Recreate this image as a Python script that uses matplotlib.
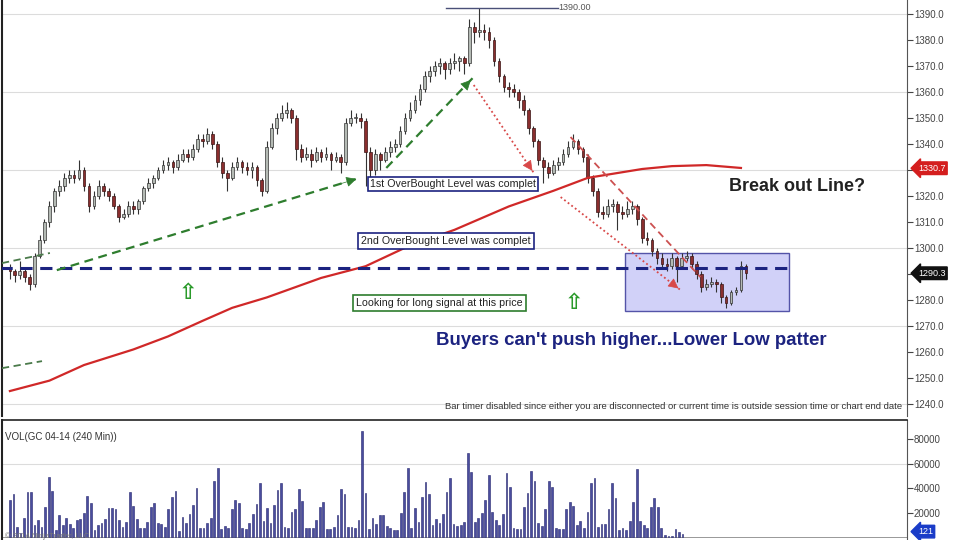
import numpy as np
import matplotlib
matplotlib.use("Agg")
import matplotlib.pyplot as plt
from matplotlib.patches import Rectangle
from matplotlib.transforms import blended_transform_factory

# ─────────────────────────────────────────────
# DATA  (GC 04-14, 240 min bars)
# ─────────────────────────────────────────────
first_open = 1292.0
closes = [
    1291, 1289.5, 1291, 1289, 1286, 1297, 1303, 1310, 1316, 1322,
    1324, 1327, 1328, 1327, 1330, 1324, 1316, 1320, 1324, 1322,
    1320, 1316, 1312, 1313, 1316, 1315, 1318, 1323, 1325, 1327,
    1330, 1332, 1333, 1331, 1334, 1336, 1335, 1338, 1342, 1341,
    1344, 1340, 1333, 1329, 1327, 1331, 1333, 1331, 1330, 1331,
    1326, 1322, 1339, 1346, 1350, 1352, 1353, 1350, 1338, 1335,
    1336, 1334, 1337, 1335, 1336, 1334, 1335, 1333, 1348, 1350,
    1350, 1349, 1337, 1330, 1336, 1334, 1337, 1339, 1340, 1345,
    1350, 1353, 1357, 1361, 1366, 1368, 1370, 1371, 1369, 1371,
    1372, 1373, 1371, 1385, 1383, 1384, 1383, 1380, 1372, 1366,
    1362, 1361, 1360, 1357, 1353, 1346, 1341, 1334, 1331, 1329,
    1332, 1333, 1336, 1339, 1341, 1338, 1335, 1327, 1322, 1314,
    1313, 1316, 1317, 1314, 1313, 1315, 1316, 1311, 1304, 1303,
    1299, 1296, 1294, 1293, 1296, 1293, 1296, 1297, 1294, 1290,
    1285, 1286, 1287, 1286, 1281, 1279, 1283, 1284, 1293, 1290.3,
]
highs = [
    1294, 1292, 1295, 1292, 1290, 1298, 1305, 1311, 1318, 1323,
    1326, 1329, 1330, 1330, 1334, 1331, 1325, 1322, 1326, 1325,
    1323, 1321, 1317, 1315, 1318, 1318, 1319, 1324, 1327, 1328,
    1331, 1334, 1335, 1334, 1336, 1338, 1338, 1340, 1344, 1344,
    1346, 1345, 1341, 1335, 1330, 1333, 1335, 1334, 1333, 1333,
    1332, 1327, 1341, 1348, 1352, 1355, 1356, 1354, 1351, 1340,
    1339, 1338, 1339, 1338, 1339, 1337, 1337, 1336, 1350, 1353,
    1352, 1352, 1350, 1339, 1338, 1337, 1339, 1341, 1342, 1347,
    1352, 1356, 1359, 1363, 1368, 1370, 1372, 1373, 1372, 1373,
    1375, 1374, 1374, 1388, 1387, 1392.5, 1386, 1385, 1381, 1373,
    1367, 1364, 1363, 1361, 1359, 1354, 1347, 1342, 1335, 1333,
    1334, 1335, 1338, 1341, 1344, 1342, 1339, 1336, 1328, 1323,
    1316, 1319, 1319, 1318, 1316, 1318, 1318, 1317, 1312, 1306,
    1304, 1300, 1298, 1296, 1298, 1297, 1298, 1299, 1298, 1295,
    1291, 1288, 1289, 1288, 1287, 1282, 1284, 1285, 1295, 1294,
]
lows = [
    1288, 1287, 1288, 1287, 1284, 1285, 1296, 1302, 1308, 1314,
    1320, 1322, 1325, 1325, 1326, 1322, 1314, 1315, 1319, 1320,
    1318, 1315, 1310, 1311, 1312, 1313, 1313, 1317, 1322, 1323,
    1326, 1329, 1330, 1329, 1330, 1333, 1333, 1334, 1337, 1339,
    1340, 1338, 1331, 1327, 1322, 1326, 1330, 1329, 1328, 1327,
    1324, 1320, 1321, 1338, 1344, 1349, 1350, 1348, 1334, 1333,
    1334, 1331, 1333, 1333, 1334, 1330, 1333, 1329, 1332, 1347,
    1348, 1346, 1324, 1326, 1328, 1330, 1333, 1335, 1337, 1339,
    1344, 1349, 1352, 1355, 1360, 1364, 1366, 1367, 1365, 1367,
    1369, 1368, 1367, 1370, 1379, 1381, 1380, 1377, 1370, 1364,
    1360, 1358, 1358, 1354, 1351, 1344, 1339, 1332, 1325, 1327,
    1328, 1330, 1332, 1335, 1338, 1336, 1333, 1325, 1320, 1312,
    1311, 1312, 1314, 1307, 1311, 1312, 1313, 1309, 1302, 1301,
    1297, 1294, 1292, 1291, 1292, 1287, 1292, 1295, 1292, 1288,
    1283, 1284, 1285, 1283, 1279, 1277, 1278, 1282, 1283, 1288,
]

# moving average (red curve) at a few bar indices
ma_idx = [0, 8, 15, 25, 32, 39, 45, 52, 63, 72, 81, 90, 101, 110, 117, 128, 134, 141, 148]
ma_val = [1245, 1249, 1255, 1261, 1266, 1272, 1277, 1281, 1288.5, 1293, 1301, 1307,
          1316, 1322, 1327, 1330.4, 1331.5, 1331.9, 1330.8]

# volume panel, thousands of contracts
vol_k = [
    30.6, 35.5, 8.8, 3.4, 15.6, 36.8, 36.8, 10.2, 14.3, 8.3, 25.2, 49.7, 37.9, 6.1,
    18.4, 10.2, 15.6, 11, 7.5, 14.3, 14.9, 20.3, 33.9, 27.9, 6.1, 10.2, 11.5, 14.9,
    24.3, 23.8, 23.2, 14.3, 8.8, 12.9, 37.4, 25.9, 14.9, 7.5, 7.5, 12.9, 25.2, 28.4,
    11.5, 11, 8.8, 23.2, 32.8, 37.9, 5.6, 16.5, 11.5, 18.9, 26.5, 40.1, 7.5, 7.5,
    11.5, 16.2, 46.1, 56.5, 6.7, 9.4, 7.5, 23.2, 30.6, 27.9, 7.5, 6.7, 11.5, 18.9,
    27, 44.2, 13.7, 23.8, 11.5, 26.5, 38.8, 44.8, 8.8, 8, 20.5, 23, 39.6, 29.8,
    7.5, 7.5, 7.5, 14.3, 25.2, 29.2, 6.7, 7.2, 8.8, 18.4, 39.6, 35.2, 8.3, 8.3,
    8, 14.3, 87.2, 36, 6.9, 16.2, 10.7, 18.4, 18.4, 9.6, 7.5, 6.1, 6.1, 19.7,
    37.4, 56.5, 7.5, 23.8, 12.9, 32.8, 45, 35.2, 10.2, 14.9, 12.1, 18.9, 37.4, 48.3,
    11, 9.4, 10.2, 12.9, 68.7, 53.8, 12.9, 15.6,
    19.7, 30.6, 51, 21.1, 14.3, 10.2, 19.2, 53, 41.5, 7.5, 6.7, 6.7, 25.2, 36.6,
    54.6, 46.4, 12.1, 9.6, 23.2, 46.1, 41.5, 7.5, 6.7, 6.9, 23.2, 28.7, 25.7, 10.2,
    13.4, 7.5, 21.1, 44.2, 48.8, 8.3, 11, 10.7, 23.2, 44.8, 32, 6.1, 7.5, 6.1,
    13.7, 28.7, 55.7, 13.7, 10.2, 7.5, 25.2, 32.5, 24.6, 7.5, 2, 1.2, 1.5, 6.7,
    4.8, 2.9,
]

price_ticks = list(range(1240, 1400, 10))
vol_ticks = [20000, 40000, 60000, 80000]
last_price = 1290.3
ma_last = 1330.7
support_level = 1292.3

NAVY = "#1c2380"
GRID = "#dcdcdc"

# ─────────────────────────────────────────────
# FIGURE
# ─────────────────────────────────────────────
plt.rcParams["font.family"] = ["Liberation Sans", "DejaVu Sans"]
fig = plt.figure(figsize=(9.6, 5.4), dpi=100)
fig.patch.set_facecolor("white")

ax = fig.add_axes([0.002, 124 / 540, 0.9448 - 0.002, 416 / 540])
axv = fig.add_axes([0.002, 0.0, 0.9448 - 0.002, 120 / 540])

n = len(closes)
x = np.arange(n)
opens = np.array([first_open] + closes[:-1])
closes_a = np.array(closes)
up = closes_a >= opens

# ── candles ──
ax.vlines(x, lows, highs, color="#333333", lw=0.8, zorder=3)
body_lo = np.minimum(opens, closes_a)
body_h = np.maximum(np.abs(closes_a - opens), 0.5)
ax.bar(x[up], body_h[up], bottom=body_lo[up], width=0.55,
       color="#b4bab4", edgecolor="#333333", lw=0.5, zorder=4)
ax.bar(x[~up], body_h[~up], bottom=body_lo[~up], width=0.55,
       color="#8a2e2e", edgecolor="#3a1414", lw=0.5, zorder=4)

# ── limits / axes ──
px = 4.95  # pixels per bar
ax.set_xlim(-8 / px, (907 - 8) / px)
ax.set_ylim(1235.4, 1395.4)
for y in [1240, 1270, 1300, 1330, 1360, 1390]:
    ax.axhline(y, color=GRID, lw=0.8, zorder=0)

ax.yaxis.tick_right()
ax.set_yticks(price_ticks)
# labels under the two price tags are hidden, as on the platform
ax.set_yticklabels(["" if t in (1290, 1330) else f"{t:.1f}" for t in price_ticks])
ax.tick_params(axis="y", labelsize=7, colors="#444444", length=4, width=0.8, pad=1)
ax.set_xticks([])
for s in ["top", "bottom"]:
    ax.spines[s].set_visible(False)
ax.spines["right"].set_color("#555555")
ax.spines["left"].set_color("#222222")
ax.spines["left"].set_linewidth(1.5)

# ── moving average ──
ax.plot(ma_idx, ma_val, color="#d02828", lw=1.6, zorder=5)

# ── support line + box ──
ax.plot([-2, (790 - 8) / px], [support_level, support_level], color=NAVY,
        lw=2.2, ls=(0, (4, 2.5)), zorder=6)
ax.add_patch(Rectangle(((624 - 8) / px, 1275.8), (789 - 624) / px, 22.3,
                       facecolor="#c9c9f7", edgecolor="#3a3a9a", lw=1.0,
                       alpha=0.85, zorder=2))

# ── peak marker ──
peak = max(highs)
ax.plot([88.3, 110.9], [peak, peak], color="#4a5078", lw=1.0, zorder=5)
ax.text(111.0, peak, "1390.00", fontsize=6.5, color="#555555", va="center", ha="left")

# ── green dashed trend arrows ──
GREEN = "#2e7d2e"
def dashed_arrow(x0, y0, x1, y1, color, ls, lw=1.6, head=True):
    ax.plot([x0, x1], [y0, y1], color=color, lw=lw, ls=ls, zorder=6)
    if head:
        ax.annotate("", xy=(x1, y1), xytext=(x0 + (x1 - x0) * 0.93, y0 + (y1 - y0) * 0.93),
                    arrowprops=dict(arrowstyle="-|>", color=color, lw=0.5,
                                    mutation_scale=16), zorder=7)

dashed_arrow(9.5, 1291.5, 70.7, 1326.9, GREEN, (0, (4, 2.5)))
dashed_arrow(76.2, 1330.8, 93.7, 1365.4, GREEN, (0, (4, 2.5)))
ax.plot([-1.6, 8.1], [1294.2, 1298.1], color="#4a7a4a", lw=1.3, ls=(0, (4, 2.5)), zorder=6)
ax.plot([-1.6, 6.5], [1253.8, 1256.5], color="#4a7a4a", lw=1.3, ls=(0, (4, 2.5)), zorder=6)

# ── red dotted / dashed lines ──
dashed_arrow(93.9, 1362.7, 106.1, 1328.8, "#d84848", (0, (1, 1.5)), lw=1.3)
dashed_arrow(111.5, 1319.6, 135.8, 1283.8, "#d84848", (0, (1, 1.5)), lw=1.3)
ax.plot([113.5, 139.8], [1342.7, 1288.8], color="#cc5050", lw=1.3, ls=(0, (4, 2.5)), zorder=6)

# ── text boxes ──
box_kw = dict(fontsize=7.7, ha="center", va="center", color="#222222", zorder=8)
ax.text(89.7, 1324.6, "1st OverBought Level was complet",
        bbox=dict(boxstyle="square,pad=0.2", fc="white", ec=NAVY, lw=1.2), **box_kw)
ax.text(88.3, 1302.7, "2nd OverBought Level was complet",
        bbox=dict(boxstyle="square,pad=0.3", fc="white", ec=NAVY, lw=1.2), **box_kw)
ax.text(86.9, 1278.8, "Looking for long signal at this price",
        bbox=dict(boxstyle="square,pad=0.3", fc="white", ec=GREEN, lw=1.2), **box_kw)

ax.text(36.0, 1282.7, "⇧", fontsize=16, color="#2a9a2a", ha="center", va="center",
        family="DejaVu Sans", fontweight="bold")
ax.text(114.3, 1278.8, "⇧", fontsize=16, color="#2a9a2a", ha="center", va="center",
        family="DejaVu Sans", fontweight="bold")

ax.text(159.4, 1323.5, "Break out Line?", fontsize=13, fontweight="bold",
        color="#222222", ha="center", va="center")
ax.text(125.9, 1264.6, "Buyers can't push higher...Lower Low patter", fontsize=13.4,
        fontweight="bold", color=NAVY, ha="center", va="center")
ax.text(180.6, 1239.2, "Bar timer disabled since either you are disconnected or current "
        "time is outside session time or chart end date", fontsize=6.8, color="#333333",
        ha="right", va="center")

# ── price tags on the right axis ──
tr = blended_transform_factory(ax.transAxes, ax.transData)
ax.text(1.012, ma_last, f"{ma_last:.1f}", transform=tr, fontsize=6.5, color="white",
        ha="left", va="center", clip_on=False,
        bbox=dict(boxstyle="larrow,pad=0.2", fc="#d41e1e", ec="#d41e1e"))
ax.text(1.012, last_price, f"{last_price:.1f}", transform=tr, fontsize=6.5, color="white",
        ha="left", va="center", clip_on=False,
        bbox=dict(boxstyle="larrow,pad=0.2", fc="#111111", ec="#111111"))

# ─────────────────────────────────────────────
# VOLUME PANEL
# ─────────────────────────────────────────────
vx = np.arange(len(vol_k))
vpx = (682 - 8) / (len(vol_k) - 1)
axv.bar(vx, np.array(vol_k) * 1000, width=0.5, color="#4a4d9e", edgecolor="#23256e",
        lw=0.4, zorder=3)
axv.set_xlim(-8 / vpx, (907 - 8) / vpx)
axv.set_ylim(-2041, 95918)
axv.axhline(60000, color=GRID, lw=0.8, zorder=0)
axv.axhline(0, color="#888888", lw=0.6, zorder=2)
axv.yaxis.tick_right()
axv.set_yticks(vol_ticks)
axv.set_yticklabels([str(v) for v in vol_ticks])
axv.tick_params(axis="y", labelsize=7, colors="#444444", length=4, width=0.8, pad=1)
axv.set_xticks([])
axv.spines["bottom"].set_visible(False)
axv.spines["top"].set_color("#222222")
axv.spines["top"].set_linewidth(1.2)
axv.spines["right"].set_color("#555555")
axv.spines["left"].set_color("#222222")
axv.spines["left"].set_linewidth(1.5)
axv.text(0.003, 0.86, "VOL(GC 04-14 (240 Min))", transform=axv.transAxes,
         fontsize=7, color="#333333", ha="left", va="center")
axv.text(1.012, 0.07, "121", transform=axv.transAxes, fontsize=6.5, color="white",
         ha="left", va="center", clip_on=False,
         bbox=dict(boxstyle="larrow,pad=0.2", fc="#1a3cc8", ec="#1a3cc8"))
axv.text(0.003, 0.035, "© 2014 NinjaTrader, LLC", transform=axv.transAxes,
         fontsize=5.5, color="#777777", ha="left", va="center", zorder=5)

fig.savefig("out.png", dpi=100)
